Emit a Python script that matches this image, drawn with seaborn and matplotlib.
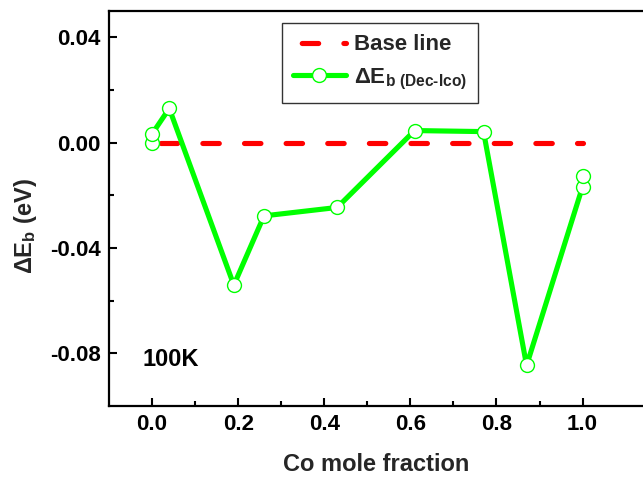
import matplotlib
matplotlib.use("Agg")
import matplotlib.pyplot as plt
import seaborn as sns
import pandas as pd
from matplotlib.ticker import FixedLocator, FormatStrFormatter

# Binding-energy difference (decahedral minus icosahedral) vs Co content at 100 K
co_fraction = [0.0, 0.0, 0.04, 0.19, 0.26, 0.43, 0.61, 0.77, 0.87, 1.0, 1.0]
delta_eb = [0.0, 0.0033, 0.0130, -0.0541, -0.0278, -0.0246, 0.0046, 0.0042,
            -0.0846, -0.0167, -0.0126]

# Reference zero line
base_x = [0.0, 1.0]
base_y = [0.0, 0.0]

x_major = [0.0, 0.2, 0.4, 0.6, 0.8, 1.0]
x_minor = [0.1, 0.3, 0.5, 0.7, 0.9]
y_major = [-0.08, -0.04, 0.00, 0.04]
y_minor = [-0.06, -0.02, 0.02]

sns.set_theme(style="ticks")
plt.rcParams["font.family"] = ["Liberation Sans", "DejaVu Sans"]
plt.rcParams["font.weight"] = "bold"
plt.rcParams["mathtext.fontset"] = "custom"
plt.rcParams["mathtext.rm"] = "Liberation Sans:bold"
plt.rcParams["mathtext.it"] = "Liberation Sans:bold"
plt.rcParams["mathtext.bf"] = "Liberation Sans:bold"

fig = plt.figure(figsize=(6.43, 4.78), dpi=100)
ax = fig.add_axes([0.1695, 0.1506, 0.8704, 0.8264])

df_base = pd.DataFrame({"x": base_x, "y": base_y})
df_eb = pd.DataFrame({"x": co_fraction, "y": delta_eb})

green = "#00ff00"
lw = 3.7
sns.lineplot(data=df_base, x="x", y="y", ax=ax, color="#ff0000", linewidth=lw,
             estimator=None, sort=False, label="Base line")
base_line = ax.lines[-1]
base_line.set_linestyle((6.4, (3.2, 4.9)))
base_line.set_dash_capstyle("round")

sns.lineplot(data=df_eb, x="x", y="y", ax=ax, color=green, linewidth=lw,
             estimator=None, sort=False, marker="o", markersize=10,
             markerfacecolor="white", markeredgecolor=green,
             markeredgewidth=1.0, label=r"ΔE$_{b\ (Dec\text{-}Ico)}$")
eb_line = ax.lines[-1]
eb_line.set_solid_capstyle("round")

ax.set_xlim(-0.1, 1.2)
ax.set_ylim(-0.10, 0.05)

ax.xaxis.set_major_locator(FixedLocator(x_major))
ax.xaxis.set_minor_locator(FixedLocator(x_minor))
ax.yaxis.set_major_locator(FixedLocator(y_major))
ax.yaxis.set_minor_locator(FixedLocator(y_minor))
ax.xaxis.set_major_formatter(FormatStrFormatter("%.1f"))
ax.yaxis.set_major_formatter(FormatStrFormatter("%.2f"))

ax.tick_params(which="major", direction="in", length=6, width=1.5,
               labelsize=16, pad=6, color="black", labelcolor="black")
ax.tick_params(which="minor", direction="in", length=3.5, width=1.5, color="black")
ax.tick_params(axis="y", which="both", left=True, right=False)
ax.tick_params(axis="x", which="both", bottom=True, top=False)

for side in ["left", "bottom", "top"]:
    ax.spines[side].set_linewidth(1.6)
    ax.spines[side].set_color("black")
ax.spines["right"].set_visible(False)

ax.set_xlabel("Co mole fraction", fontsize=17, fontweight="bold")
ax.set_ylabel("ΔE$_{b}$ (eV)", fontsize=17, fontweight="bold")
ax.xaxis.set_label_coords(0.478, -0.118)
ax.yaxis.set_label_coords(-0.125, 0.456)

ax.text(-0.023, -0.0849, "100K", fontsize=17, fontweight="bold",
        ha="left", va="baseline", color="black")

leg = ax.legend(loc="upper left", bbox_to_anchor=(281.7 / 643, 1 - 23.3 / 478),
                bbox_transform=fig.transFigure, borderaxespad=0,
                fontsize=16, frameon=True, fancybox=False, framealpha=1,
                edgecolor="#333333", handlelength=2.4, handletextpad=0.36,
                labelspacing=0.5, borderpad=0.5)
leg.get_frame().set_linewidth(1.0)
for t in leg.get_texts():
    t.set_fontweight("bold")

fig.savefig("out.png", dpi=100)
